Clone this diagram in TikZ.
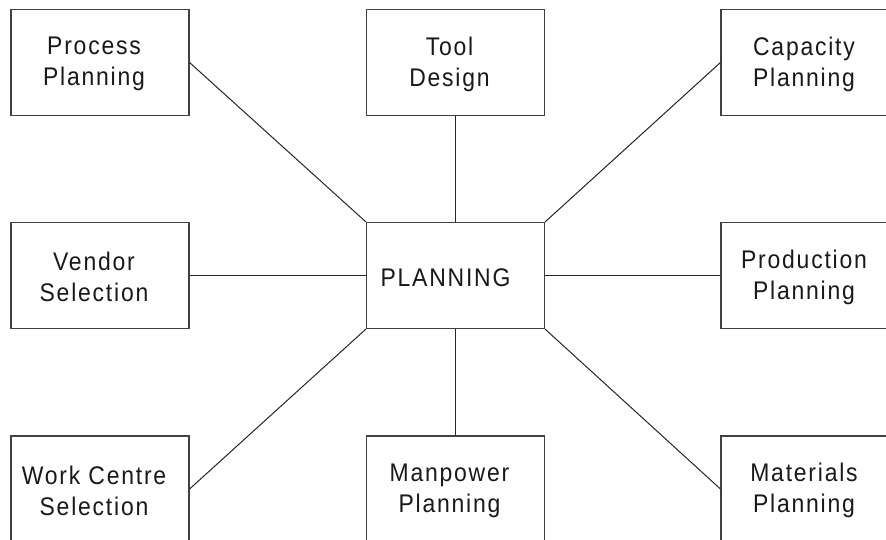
\documentclass[tikz,border=0pt]{standalone}
\usepackage{fontspec}
\setmainfont{Liberation Sans}[FakeStretch=0.9,LetterSpace=7]
\begin{document}
\begin{tikzpicture}[x=1pt,y=-1pt,
  box/.style={draw=black!75,line width=1.1pt,minimum width=178pt,minimum height=106pt,inner sep=0pt,
    label={[xshift=-6pt,yshift=-1.5pt,align=center,text=black!90,font=\fontsize{25.5}{31}\selectfont,inner sep=0pt]center:#1}},
  link/.style={draw=black!85,line width=1pt}]
\useasboundingbox (0,0) rectangle (886,539);
\clip (0,0) rectangle (886,539);
\fill[white] (0,0) rectangle (886,539);
\node[box={Process\\Planning}] (proc) at (100,62.5) {};
\node[box={Tool\\Design}] (tool) at (455.5,62.5) {};
\node[box={Capacity\\Planning}] (cap) at (810,62.5) {};
\node[box={Vendor\\Selection}] (vend) at (100,275.5) {};
\node[draw=black!75,line width=1.1pt,minimum width=178pt,minimum height=106pt,inner sep=0pt] (plan) at (455.5,275.5) {};
\node[font=\fontsize{25.5}{31}\selectfont,text=black!90,inner sep=0pt,xshift=-10pt,yshift=-2pt] (plantext) at (plan.center) {PLANNING};
\node[box={Production\\Planning}] (prod) at (810,275.5) {};
\node[box={Work Centre\\Selection}] (work) at (100,489) {};
\node[box={Manpower\\Planning}] (man) at (455.5,489) {};
\node[box={Materials\\Planning}] (mat) at (810,489) {};
\draw[link] (proc.east) -- (plan.north west);
\draw[link] (tool.south) -- (plan.north);
\draw[link] (cap.west) -- (plan.north east);
\draw[link] (vend.east) -- (plan.west);
\draw[link] (prod.west) -- (plan.east);
\draw[link] (work.east) -- (plan.south west);
\draw[link] (man.north) -- (plan.south);
\draw[link] (mat.west) -- (plan.south east);
\end{tikzpicture}
\end{document}
